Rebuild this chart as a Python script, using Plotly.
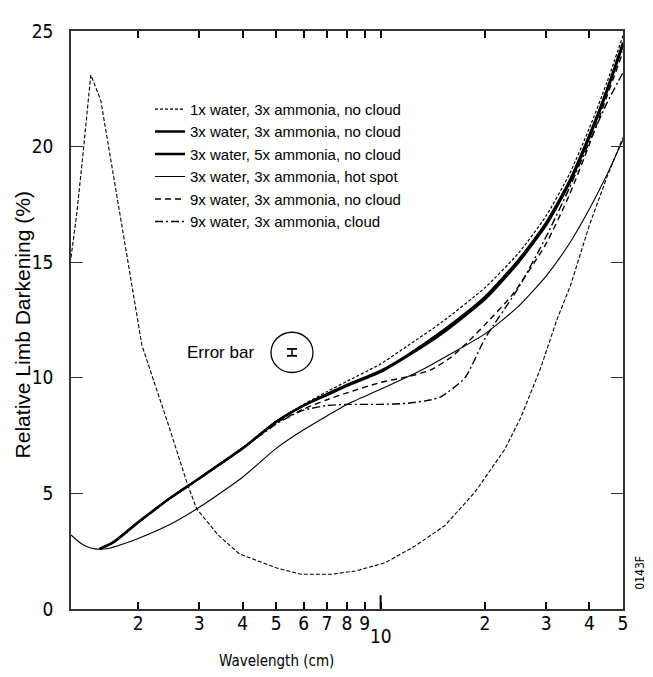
import numpy as np
import plotly.graph_objects as go

# wavelength (cm) / relative limb darkening (%)
wl_bundle = [1.55, 1.7, 2.0, 2.5, 3.0, 4.0, 5.0, 6.0, 7.0, 8.0, 10, 12, 15, 20, 25, 30, 35, 40, 45, 50]
ld_1x_water = [2.6, 2.9, 3.75, 4.85, 5.65, 6.95, 8.1, 8.85, 9.4, 9.85, 10.6, 11.4, 12.4, 13.9, 15.4, 17.0, 18.8, 20.8, 22.8, 24.8]
ld_3x_3x = [2.6, 2.9, 3.75, 4.85, 5.65, 6.95, 8.1, 8.8, 9.3, 9.7, 10.3, 11.0, 12.0, 13.5, 15.1, 16.7, 18.5, 20.5, 22.5, 24.5]
ld_3x_5x = [2.6, 2.9, 3.75, 4.85, 5.65, 6.95, 8.1, 8.8, 9.25, 9.65, 10.25, 10.95, 11.9, 13.4, 15.0, 16.6, 18.4, 20.4, 22.4, 24.4]

wl_hot = [1.28, 1.35, 1.42, 1.5, 1.64, 1.8, 2.0, 2.5, 3.0, 4.0, 5.0, 6.0, 7.0, 8.0, 10, 13, 16, 20, 25, 30, 35, 40, 45, 50]
ld_hot = [3.2, 2.9, 2.7, 2.6, 2.62, 2.8, 3.05, 3.7, 4.4, 5.7, 6.95, 7.75, 8.35, 8.85, 9.5, 10.3, 11.05, 11.9, 13.1, 14.4, 15.8, 17.3, 18.8, 20.3]

wl_9x = [1.55, 1.7, 2.0, 2.5, 3.0, 4.0, 5.0, 6.0, 7.0, 8.0, 10, 12, 14, 16, 18, 20, 24, 30, 35, 40, 45, 50]
ld_9x = [2.6, 2.9, 3.75, 4.85, 5.65, 6.95, 8.05, 8.65, 9.05, 9.35, 9.8, 10.05, 10.35, 10.9, 11.6, 12.3, 13.6, 15.8, 17.9, 20.1, 22.2, 24.1]

wl_cloud = [1.55, 1.7, 2.0, 2.5, 3.0, 4.0, 5.0, 5.5, 6.0, 7.0, 8.0, 10, 12, 14, 15, 17.5, 20, 25, 30, 35, 40, 45, 50]
ld_cloud = [2.6, 2.9, 3.75, 4.85, 5.65, 6.95, 8.0, 8.35, 8.6, 8.8, 8.85, 8.85, 8.9, 9.05, 9.2, 10.0, 11.7, 13.9, 16.1, 18.2, 20.2, 21.9, 23.2]

wl_hump = [1.28, 1.33, 1.38, 1.46, 1.56, 1.7, 1.85, 2.05, 2.44, 2.78, 2.95, 3.4, 3.92, 5.0, 5.9, 7.2, 8.5,
           10.3, 12.5, 15.3, 18.7, 22.8, 25.4, 28.9, 32.3, 35.3, 40, 45, 50]
ld_hump = [15.2, 17.1, 19.4, 23.1, 22.0, 18.6, 15.4, 11.4, 8.0, 5.35, 4.33, 3.2, 2.38, 1.78, 1.5, 1.5, 1.65,
           2.0, 2.7, 3.6, 5.05, 6.9, 8.3, 10.4, 12.55, 14.0, 16.6, 18.7, 20.4]

x_ticks = [2, 3, 4, 5, 6, 7, 8, 9, 10, 20, 30, 40, 50]
x_tick_text = ["2", "3", "4", "5", "6", "7", "8", "9", "", "2", "3", "4", "5"]
y_ticks = [0, 5, 10, 15, 20, 25]

X_MIN, X_MAX = 1.28, 50

narrow = "Liberation Sans Narrow, DejaVu Sans Condensed, Liberation Sans, Arial"
sans = "Liberation Sans, Arial"

fig = go.Figure()

series = [
    ("1x water, 3x ammonia, no cloud", wl_bundle, ld_1x_water, dict(width=1.2, dash="3px,2px")),
    ("3x water, 3x ammonia, no cloud", wl_bundle, ld_3x_3x, dict(width=2.4)),
    ("3x water, 5x ammonia, no cloud", wl_bundle, ld_3x_5x, dict(width=2.4)),
    ("3x water, 3x ammonia, hot spot", wl_hot, ld_hot, dict(width=1.1)),
    ("9x water, 3x ammonia, no cloud", wl_9x, ld_9x, dict(width=1.4, dash="6px,4px")),
    ("9x water, 3x ammonia, cloud", wl_cloud, ld_cloud, dict(width=1.4, dash="8px,3px,2px,3px")),
]
for name, xs, ys, ln in series:
    fig.add_trace(go.Scatter(x=xs, y=ys, mode="lines", name=name, legendgroup=name,
                             line=dict(color="black", shape="spline", smoothing=0.6, **ln)))

fig.add_trace(go.Scatter(x=wl_hump, y=ld_hump, mode="lines", showlegend=False,
                         line=dict(color="black", width=1.1, dash="4px,2px")))

# the page puts the figure 8px in from the top-left corner, so page pixel -> paper coords
def px_x(p):
    return (p - 71) / 552

def px_y(p):
    return (609 - p) / 589

x10 = (np.log10(10) - np.log10(X_MIN)) / (np.log10(X_MAX) - np.log10(X_MIN))

def seg(x0, y0, x1, y1, w=1.5):
    return dict(type="line", xref="paper", yref="paper", x0=px_x(x0), x1=px_x(x1), y0=px_y(y0), y1=px_y(y1),
                line=dict(color="black", width=w))

shapes = [
    # long tick at 10
    dict(type="line", xref="paper", yref="paper", x0=x10, x1=x10, y0=0, y1=14 / 589,
         line=dict(color="black", width=2)),
    # error bar circle with its little bar
    dict(type="circle", xref="paper", yref="paper", x0=px_x(271), x1=px_x(313), y0=px_y(368), y1=px_y(327),
         line=dict(color="black", width=1.3)),
    seg(287, 344, 297, 344, 1.8),
    seg(287, 351, 297, 351, 1.8),
    seg(292, 344, 292, 351, 1.5),
]

def note(text, x, y, size, family, angle=0):
    return dict(text=text, xref="paper", yref="paper", x=px_x(x), y=px_y(y), xanchor="center",
                yanchor="middle", textangle=angle, showarrow=False,
                font=dict(family=family, size=size, color="black"))

annotations = [
    dict(text="10", xref="paper", yref="paper", x=x10, y=px_y(637), xanchor="center", yanchor="middle",
         showarrow=False, font=dict(family=narrow, size=19, color="black")),
    note("Wavelength (cm)", 276, 662, 15, narrow),
    note("Relative Limb Darkening (%)", 22, 320, 21, sans, -90),
    note("Error bar", 220, 348, 17, sans),
    note("0143F", 640, 572, 12, narrow, -90),
]

fig.update_layout(
    width=645, height=669,
    margin=dict(l=63, r=30, t=12, b=68),
    paper_bgcolor="white", plot_bgcolor="white",
    font=dict(family=narrow, color="black"),
    shapes=shapes, annotations=annotations,
    legend=dict(x=px_x(150), y=px_y(83), xanchor="left", yanchor="top", bgcolor="rgba(0,0,0,0)",
                font=dict(family=sans, size=15, color="black"), tracegroupgap=0),
)
fig.update_xaxes(type="log", range=[np.log10(X_MIN), np.log10(X_MAX)],
                 tickmode="array", tickvals=x_ticks, ticktext=x_tick_text,
                 ticks="inside", ticklen=7, tickwidth=1.5, tickcolor="black",
                 showline=True, linecolor="#333", linewidth=1.5, mirror="ticks",
                 showgrid=False, zeroline=False, ticklabelstandoff=-4,
                 tickfont=dict(family=narrow, size=19, color="black"))
fig.update_yaxes(range=[0, 25], tickmode="array", tickvals=y_ticks,
                 ticks="inside", ticklen=12, tickwidth=1.3, tickcolor="#333",
                 showline=True, linecolor="#333", linewidth=1.5, mirror="ticks",
                 showgrid=False, zeroline=False, ticklabelstandoff=12,
                 tickfont=dict(family=narrow, size=19, color="black"))

fig.write_html("out.html")
